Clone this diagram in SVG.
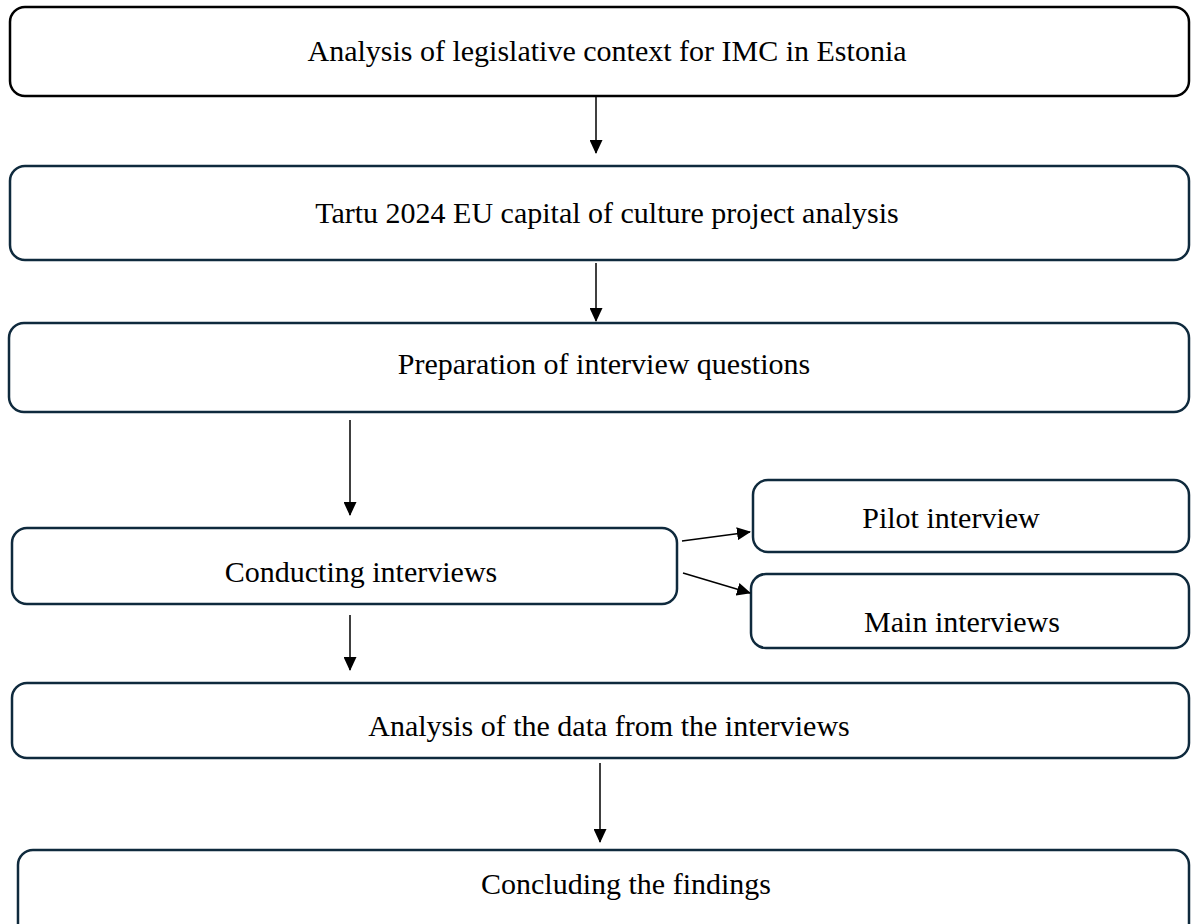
<svg xmlns="http://www.w3.org/2000/svg" width="1192" height="924" viewBox="0 0 1192 924">
<defs>
<marker id="ah" markerWidth="14" markerHeight="13" refX="13" refY="6.5" orient="auto" markerUnits="userSpaceOnUse"><path d="M0,0 L14,6.5 L0,13 Z" fill="#000"/></marker>
<style>
.box{fill:#fff;stroke:#0f2a3d;stroke-width:2.5}
.b1{stroke:#000}
.t{font-family:"Liberation Serif","Times New Roman",serif;font-size:30px;fill:#000;text-anchor:middle}
.c{stroke:#000;stroke-width:1.5;fill:none;marker-end:url(#ah)}
</style>
</defs>
<rect width="1192" height="924" fill="#fff"/>
<g id="n1"><rect class="box b1" x="10" y="7" width="1179" height="89" rx="15"/><text class="t" x="607" y="61">Analysis of legislative context for IMC in Estonia</text></g>
<g id="n2"><rect class="box" x="10" y="166" width="1179" height="94" rx="15"/><text class="t" x="607" y="223">Tartu 2024 EU capital of culture project analysis</text></g>
<g id="n3"><rect class="box" x="9" y="323" width="1180" height="89" rx="15"/><text class="t" x="604" y="374">Preparation of interview questions</text></g>
<g id="n4"><rect class="box" x="12" y="528" width="665" height="76" rx="15"/><text class="t" x="361" y="582">Conducting interviews</text></g>
<g id="n5"><rect class="box" x="753" y="480" width="436" height="72" rx="15"/><text class="t" x="951" y="528">Pilot interview</text></g>
<g id="n6"><rect class="box" x="751" y="574" width="438" height="74" rx="15"/><text class="t" x="962" y="632">Main interviews</text></g>
<g id="n7"><rect class="box" x="12" y="683" width="1177" height="75" rx="15"/><text class="t" x="609" y="736">Analysis of the data from the interviews</text></g>
<g id="n8"><rect class="box" x="18" y="850" width="1171" height="90" rx="15"/><text class="t" x="626" y="894">Concluding the findings</text></g>
<g id="connectors">
<line class="c" x1="596" y1="97" x2="596" y2="153"/>
<line class="c" x1="596" y1="263" x2="596" y2="321"/>
<line class="c" x1="350" y1="420" x2="350" y2="515"/>
<line class="c" x1="350" y1="615" x2="350" y2="670"/>
<line class="c" x1="600" y1="763" x2="600" y2="842"/>
<line class="c" x1="682" y1="541" x2="750" y2="532"/>
<line class="c" x1="683" y1="573" x2="750" y2="593"/>
</g>
</svg>
